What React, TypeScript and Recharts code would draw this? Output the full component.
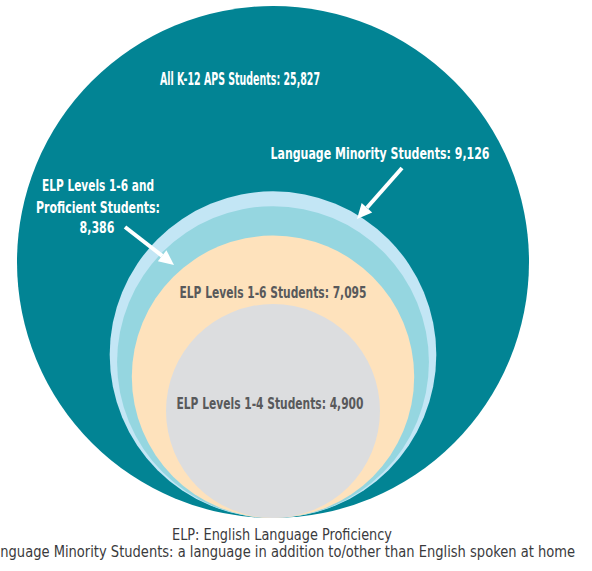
import { ScatterChart, Scatter, XAxis, YAxis, ZAxis } from 'recharts';

// student groups, largest first so smaller circles sit on top
const groups = [
  'All K-12 APS Students',
  'Language Minority Students',
  'ELP Levels 1-6 and Proficient Students',
  'ELP Levels 1-6 Students',
  'ELP Levels 1-4 Students',
];
const students = [25827, 9126, 8386, 7095, 4900];

const circleColors = ['#028494', '#c3e6f5', '#95d6e0', '#fee2bc', '#dcdddf'];

const labelFont = "'Liberation Sans Narrow', 'DejaVu Sans Condensed', 'Open Sans', sans-serif";

function NestedCircle(props: any) {
  const { cx, cy, payload } = props;
  const r = props.width ? props.width / 2 : Math.sqrt((props.size || 0) / Math.PI);
  // every circle touches the same anchor point at its bottom
  return <circle cx={cx} cy={cy - r} r={r} fill={payload.fill} />;
}

function Arrow({ x1, y1, x2, y2 }: { x1: number; y1: number; x2: number; y2: number }) {
  const ang = Math.atan2(y2 - y1, x2 - x1);
  const head = 15;
  const half = 7;
  const bx = x2 - head * Math.cos(ang);
  const by = y2 - head * Math.sin(ang);
  const px = -Math.sin(ang) * half;
  const py = Math.cos(ang) * half;
  return (
    <g>
      <line x1={x1} y1={y1} x2={bx} y2={by} stroke="#fff" strokeWidth={4} />
      <polygon points={`${x2},${y2} ${bx + px},${by + py} ${bx - px},${by - py}`} fill="#fff" />
    </g>
  );
}

function Txt({ x, y, w, children, bold = true, fill = '#fff', size = 16 }: any) {
  return (
    <text
      x={x}
      y={y}
      textAnchor="middle"
      textLength={w}
      lengthAdjust="spacingAndGlyphs"
      fontFamily={labelFont}
      fontWeight={bold ? 700 : 400}
      fontSize={size}
      fill={fill}
    >
      {children}
    </text>
  );
}

export default function App() {
  const table = groups.map((name, i) => ({
    name,
    students: students[i],
    fill: circleColors[i],
    x: 0,
    y: 0,
  }));

  return (
    <div style={{ position: 'absolute', left: 0, top: 0, width: 592, height: 571 }}>
      <ScatterChart width={592} height={571} margin={{ top: 0, right: 46, bottom: 53, left: 0 }}>
        <XAxis type="number" dataKey="x" domain={[-1, 1]} hide />
        <YAxis type="number" dataKey="y" domain={[0, 1]} hide />
        <ZAxis
          type="number"
          dataKey="students"
          scale="sqrt"
          domain={[Math.min(...students), Math.max(...students)]}
          range={[Math.PI * 107 * 107, Math.PI * 256 * 256]}
        />
        <Scatter data={table} shape={<NestedCircle />} isAnimationActive={false} />
      </ScatterChart>
      <svg
        width={592}
        height={571}
        style={{ position: 'absolute', left: 0, top: 0, pointerEvents: 'none' }}
      >
        <Txt x={240} y={85} w={160} size={17}>All K-12 APS Students: 25,827</Txt>
        <Txt x={380} y={159} w={219}>Language Minority Students: 9,126</Txt>
        <Arrow x1={402} y1={168} x2={357} y2={219} />
        <Txt x={98} y={191} w={112}>ELP Levels 1-6 and</Txt>
        <Txt x={98} y={213} w={124}>Proficient Students:</Txt>
        <Txt x={97} y={233} w={35}>8,386</Txt>
        <Arrow x1={125} y1={227} x2={174} y2={265} />
        <Txt x={273} y={298} w={187} fill="#58595b">ELP Levels 1-6 Students: 7,095</Txt>
        <Txt x={270} y={409} w={187} fill="#58595b">ELP Levels 1-4 Students: 4,900</Txt>
        <Txt x={282} y={540} w={220} bold={false} fill="#3a3a3c" size={16}>
          ELP: English Language Proficiency
        </Txt>
        <Txt x={280} y={557} w={590} bold={false} fill="#3a3a3c" size={16}>
          Language Minority Students: a language in addition to/other than English spoken at home
        </Txt>
      </svg>
    </div>
  );
}
